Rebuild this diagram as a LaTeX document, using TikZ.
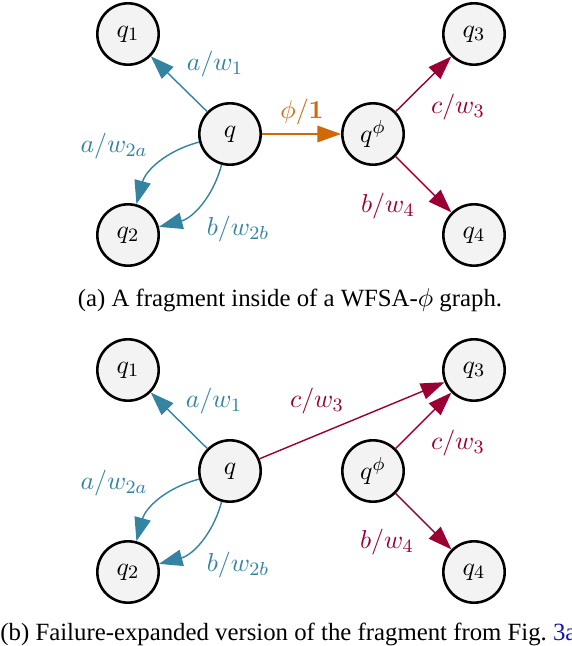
\documentclass[tikz,border=0pt]{standalone}
\usepackage[no-math]{fontspec}
\setmainfont{Liberation Serif}
\usetikzlibrary{arrows.meta}
\definecolor{cblue}{RGB}{52,131,160}
\definecolor{corange}{RGB}{208,105,10}
\definecolor{ccrim}{RGB}{155,0,52}
\definecolor{nfill}{RGB}{243,243,243}
\definecolor{linkblue}{RGB}{20,20,170}
\tikzset{
  st/.style={circle, draw=black, line width=1.1pt, fill=nfill, minimum size=26pt, inner sep=0pt, font=\fontsize{11}{13}\selectfont},
  tr/.style={line width=0.6pt, -{Triangle[length=10pt,width=7pt]}},
  lbl/.style={inner sep=0pt, font=\fontsize{11}{13}\selectfont},
  captext/.style={font=\fontsize{10.5}{12.5}\selectfont},
}
\begin{document}
\begin{tikzpicture}[x=0.4237pt, y=-0.4237pt]
\useasboundingbox (0,0) rectangle (572,646);
% ---------- (a) ----------
\node[st] (q1) at (128,34) {$q_1$};
\node[st] (q)  at (230,134) {$q$};
\node[st] (q2) at (128,235) {$q_2$};
\node[st] (qp) at (373,134) {$q^{\phi}$};
\node[st] (q3) at (474,34) {$q_3$};
\node[st] (q4) at (474,235) {$q_4$};
\draw[tr, cblue] (q) -- (q1) node[lbl, text=cblue] (la1) at (215,64) {$a/w_1$};
\draw[tr, cblue] (q) to[bend right=30] (q2);
\node[lbl, text=cblue] (la2a) at (114,146) {$a/w_{2a}$};
\draw[tr, cblue] (q) to[bend left=30] (q2);
\node[lbl, text=cblue] (lb2b) at (238,229) {$b/w_{2b}$};
\draw[tr, corange] (q) -- (qp) node[lbl, text=corange] (lphi) at (302,112) {$\phi/\mathbf{1}$};
\draw[tr, ccrim] (qp) -- (q3) node[lbl, text=ccrim] (lc3) at (458,107) {$c/w_3$};
\draw[tr, ccrim] (qp) -- (q4) node[lbl, text=ccrim] (lb4) at (388,206) {$b/w_4$};
\node[captext] (capa) at (290,300) {(a) A fragment inside of a WFSA-$\phi$ graph.};
% ---------- (b) ----------
\node[st] (r1) at (128,370) {$q_1$};
\node[st] (r)  at (230,471) {$q$};
\node[st] (r2) at (128,572) {$q_2$};
\node[st] (rp) at (373,471) {$q^{\phi}$};
\node[st] (r3) at (474,370) {$q_3$};
\node[st] (r4) at (474,572) {$q_4$};
\draw[tr, cblue] (r) -- (r1) node[lbl, text=cblue] (ma1) at (214,401) {$a/w_1$};
\draw[tr, cblue] (r) to[bend right=30] (r2);
\node[lbl, text=cblue] (ma2a) at (114,483) {$a/w_{2a}$};
\draw[tr, cblue] (r) to[bend left=30] (r2);
\node[lbl, text=cblue] (mb2b) at (238,565) {$b/w_{2b}$};
\draw[tr, ccrim] (r) -- (r3) node[lbl, text=ccrim] (mc3a) at (317,401) {$c/w_3$};
\draw[tr, ccrim] (rp) -- (r3) node[lbl, text=ccrim] (mc3b) at (458,443) {$c/w_3$};
\draw[tr, ccrim] (rp) -- (r4) node[lbl, text=ccrim] (mb4) at (387,542) {$b/w_4$};
\node[captext, anchor=west, inner sep=0pt] (capb) at (0,634) {(b) Failure-expanded version of the fragment from Fig.~\textcolor{linkblue}{3a}};
\end{tikzpicture}
\end{document}
